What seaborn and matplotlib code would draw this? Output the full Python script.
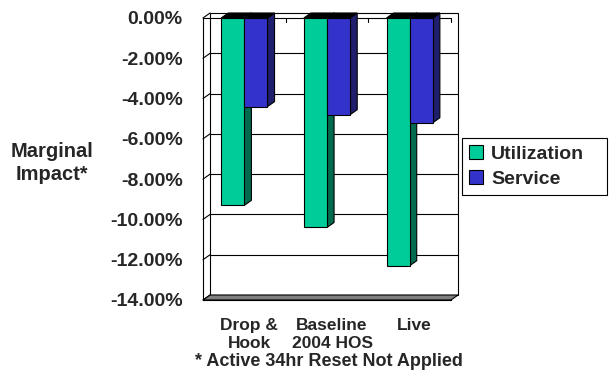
import matplotlib
matplotlib.use("Agg")
import matplotlib.pyplot as plt
from matplotlib.patches import Polygon, Rectangle, Patch
from matplotlib.transforms import ScaledTranslation
import pandas as pd
import seaborn as sns

# ---- data -------------------------------------------------------------
categories = ["Drop &\nHook", "Baseline\n2004 HOS", "Live"]
series = ["Utilization", "Service"]
utilization = [-9.3, -10.4, -12.3]
service = [-4.4, -4.8, -5.2]
y_ticks = [0, -2, -4, -6, -8, -10, -12, -14]
y_label = "Marginal\nImpact*"
footnote = "* Active 34hr Reset Not Applied"

face_colors = {"Utilization": "#00CC99", "Service": "#3333CC"}
side_colors = {"Utilization": "#006B4F", "Service": "#1F1F6E"}

df = pd.DataFrame({
    "category": categories * 2,
    "series": ["Utilization"] * len(categories) + ["Service"] * len(categories),
    "impact": utilization + service,
})

sns.set_style("white")
plt.rcParams["font.family"] = ["Liberation Sans", "DejaVu Sans"]
plt.rcParams["font.weight"] = "bold"

W, H = 610, 371
fig = plt.figure(figsize=(W / 100, H / 100), dpi=100)
ax = fig.add_axes([203 / W, 1 - 300 / H, 248 / W, 282 / H])

sns.barplot(data=df, x="category", y="impact", hue="series",
            hue_order=series, palette=face_colors, saturation=1, width=0.56,
            edgecolor="black", linewidth=0.8, legend=False, ax=ax)

ymin, ymax = min(y_ticks), max(y_ticks)
ax.set_xlim(-0.5, len(categories) - 0.5)
ax.set_ylim(ymin, ymax)
ax.patch.set_visible(False)

# depth of the pseudo-3D box, in data units
dx = 7 / 82
dy = 5 / (282 / (ymax - ymin))
x0, x1 = ax.get_xlim()

# back wall with gridlines
ax.add_patch(Rectangle((x0 + dx, ymin + dy), x1 - x0, ymax - ymin,
                       facecolor="white", edgecolor="black", lw=0.8,
                       zorder=0.5, clip_on=False))
for v in y_ticks[1:-1]:
    ax.plot([x0 + dx, x1 + dx], [v + dy, v + dy], color="black", lw=0.8,
            zorder=0.6, clip_on=False)
# side-wall diagonals from the value axis
for v in y_ticks:
    ax.plot([x0, x0 + dx], [v, v + dy], color="black", lw=0.8,
            zorder=0.6, clip_on=False)
# floor
ax.add_patch(Polygon([(x0, ymin), (x1, ymin), (x1 + dx, ymin + dy),
                      (x0 + dx, ymin + dy)], closed=True,
                     facecolor="#808080", edgecolor="black", lw=0.8,
                     zorder=0.7, clip_on=False))
# category axis line at zero with inward ticks
ax.plot([x0, x1], [0, 0], color="black", lw=0.8, zorder=0.8, clip_on=False)
for b in [i + 0.5 for i in range(len(categories))]:
    ax.plot([b, b], [0, -0.18], color="black", lw=0.8, zorder=0.8,
            clip_on=False)

# top and side faces of each bar, drawn left to right
bars = [p for p in ax.patches if isinstance(p, Rectangle) and p.get_width() < 0.5]
bars = sorted(bars, key=lambda p: p.get_x())
for i, p in enumerate(bars):
    bx0 = p.get_x()
    bx1 = bx0 + p.get_width()
    top = p.get_y()
    bot = top + p.get_height()
    name = series[i % 2]
    z = 2 + i * 2
    ax.add_patch(Polygon([(bx1, top), (bx1 + dx, top + dy), (bx1 + dx, bot + dy),
                          (bx1, bot)], closed=True, facecolor=side_colors[name],
                         edgecolor="black", lw=0.8, zorder=z, clip_on=False))
    ax.add_patch(Polygon([(bx0, top), (bx1, top), (bx1 + dx, top + dy),
                          (bx0 + dx, top + dy)], closed=True, facecolor="black",
                         edgecolor="black", lw=0.8, zorder=z, clip_on=False))
    p.set_zorder(z + 1)

# axes styling
for s in ["top", "right"]:
    ax.spines[s].set_visible(False)
for s in ["left", "bottom"]:
    ax.spines[s].set_color("black")
    ax.spines[s].set_linewidth(0.8)
    ax.spines[s].set_zorder(1)

ax.set_yticks(y_ticks)
ax.set_yticklabels([f"{v:.2f}%" for v in y_ticks])
ax.tick_params(axis="y", length=4.5, width=0.8, color="black", pad=10,
               labelsize=14, direction="out")
ax.set_xticks(range(len(categories)))
ax.set_xticks([i - 0.5 for i in range(len(categories) + 1)], minor=True)
ax.tick_params(axis="x", which="major", length=0, pad=13, labelsize=12.5)
ax.tick_params(axis="x", which="minor", length=4, width=0.8, color="black",
               direction="out")
shift = ScaledTranslation(5 / 100, 0, fig.dpi_scale_trans)
for lbl in ax.get_xticklabels():
    lbl.set_transform(lbl.get_transform() + shift)
    lbl.set_linespacing(1.25)
ax.set_xlabel("")

ax.set_ylabel(y_label, rotation=0, fontsize=14.5, fontweight="bold",
              ha="center", va="center", linespacing=1.3)
ax.yaxis.set_label_coords((52 - 203) / 248, (H - 163 - 71) / 282)

fig.text(329 / W, 1 - 362 / H, footnote, ha="center", va="center",
         fontsize=13, fontweight="bold")

handles = [Patch(facecolor=face_colors[s], edgecolor="black", lw=0.8)
           for s in series]
leg = ax.legend(handles, series, loc="upper left", mode="expand",
                bbox_to_anchor=(462 / W, 1 - 195 / H, 145 / W, 57 / H),
                bbox_transform=fig.transFigure, borderaxespad=0,
                fontsize=14, frameon=True, fancybox=False,
                edgecolor="black", framealpha=1, handlelength=0.7,
                handleheight=0.7, handletextpad=0.45, labelspacing=0.38,
                borderpad=0.36)
leg.get_frame().set_linewidth(0.8)

fig.savefig("out.png", dpi=100)
